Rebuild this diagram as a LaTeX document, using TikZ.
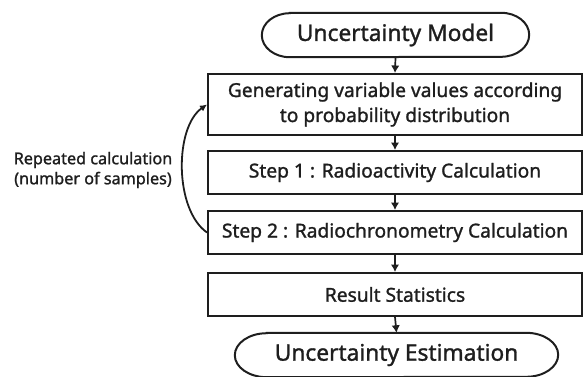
\documentclass[tikz,border=0pt]{standalone}
\usepackage{fontspec}
\setmainfont{Noto Sans}[FakeBold=1.3]
\usetikzlibrary{arrows.meta,calc}
\definecolor{ink}{HTML}{1E1E1E}
\begin{document}
\begin{tikzpicture}[x=1pt,y=1pt,
  box/.style={draw=ink,line width=2pt,minimum width=374pt,inner sep=0pt,align=center,font=\fontsize{19.2}{23}\selectfont,text=ink},
  term/.style={minimum height=44pt,inner sep=0pt,font=\fontsize{22.7}{26}\selectfont,text=ink},
  arr/.style={draw=ink,line width=1.7pt,-{Latex[length=7.5pt,width=8.5pt]}},
  carr/.style={draw=ink,line width=1.8pt,-{Latex[length=7pt,width=7pt]}},
  tline/.style={draw=ink,line width=2pt}]
\useasboundingbox (0,0) rectangle (583,-376);
\node[term,minimum width=267pt] (tm) at (395.5,-35) {Uncertainty Model};
\node[box,minimum height=61pt] (b1) at (395,-104.5) {Generating variable values according\\[2pt]to probability distribution};
\node[box,minimum height=43pt] (s1) at (395,-172.5) {Step 1 : Radioactivity Calculation};
\node[box,minimum height=43pt] (s2) at (395,-232.5) {Step 2 : Radiochronometry Calculation};
\node[box,minimum height=43pt] (rs) at (395,-294.5) {Result Statistics};
\node[term,minimum width=323pt] (te) at (396.5,-355) {Uncertainty Estimation};
\node[align=center,text=ink,font=\fontsize{16.2}{20}\selectfont] (lbl) at (93,-170) {Repeated calculation\\(number of samples)};
\foreach \n/\r in {tm/28,te/32}{
  \draw[tline] ([xshift=\r pt]\n.north west) -- ([xshift=-\r pt]\n.north east)
    arc[start angle=90,end angle=-90,x radius=\r pt,y radius=22pt]
    -- ([xshift=\r pt]\n.south west)
    arc[start angle=270,end angle=90,x radius=\r pt,y radius=22pt] -- cycle;
}
\draw[arr] (tm.south) -- (b1.north);
\draw[arr] (b1.south) -- (s1.north);
\draw[arr] (s1.south) -- (s2.north);
\draw[arr] (s2.south) -- (rs.north);
\draw[arr] (rs.south) -- (te.north);
\draw[carr] (s2.west) to[out=145,in=215,looseness=0.8] (b1.west);
\end{tikzpicture}
\end{document}
